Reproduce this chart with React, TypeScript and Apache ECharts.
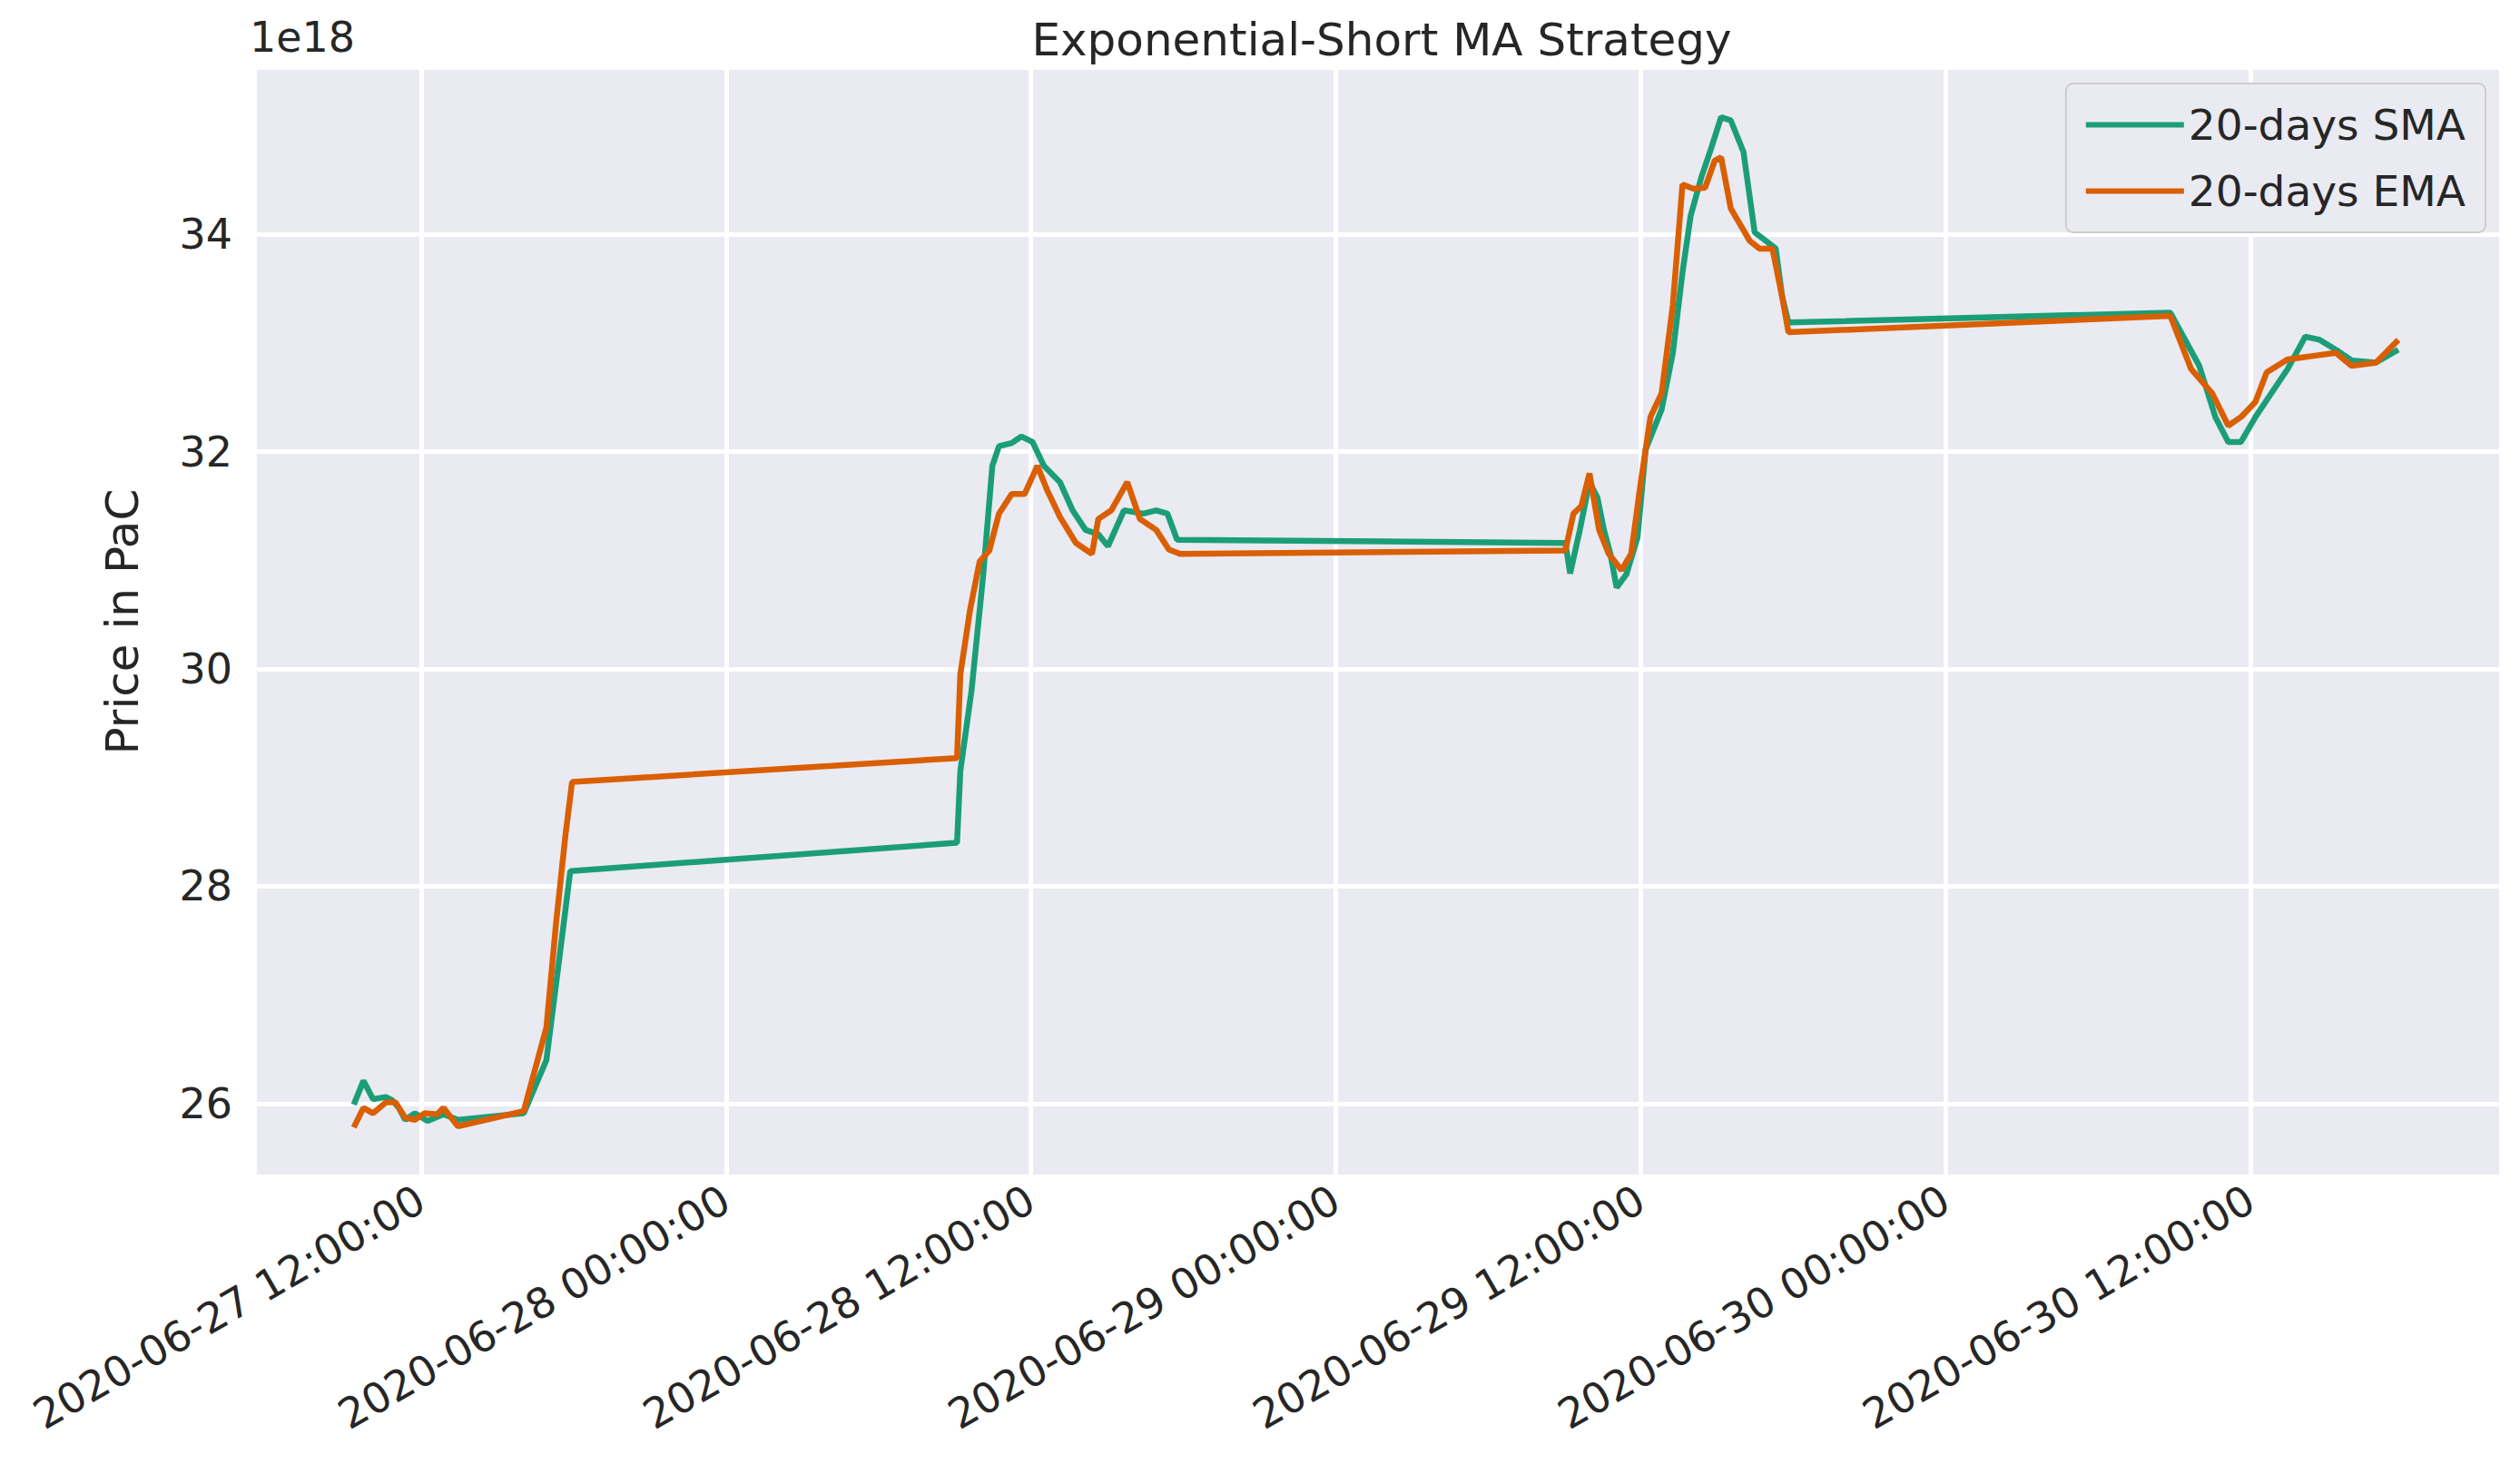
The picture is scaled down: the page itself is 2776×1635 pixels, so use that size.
import React, { useEffect, useRef } from 'react';
import * as echarts from 'echarts';

// hours after 2020-06-27 12:00 UTC, values in units of 1e18
const smaHours = [-2.65, -2.27, -1.89, -1.39, -1.14, -0.88, -0.63, -0.25, 0.25, 0.88, 1.45, 4.04, 4.93, 5.43, 5.87,
  21.09, 21.22, 21.66, 22.11, 22.48, 22.74, 23.24, 23.62, 24.06, 24.51, 25.14, 25.64, 26.15, 26.65, 27.03, 27.66, 28.42, 28.93, 29.37, 29.75,
  45.03, 45.22, 45.6, 45.98, 46.29, 46.55, 46.8, 47.05, 47.43, 47.87, 48.19, 48.82, 49.26, 49.64, 49.96, 50.4, 50.78, 51.16, 51.54, 52.04, 52.48, 52.93, 53.31, 53.56, 53.81,
  68.84, 69.35, 69.98, 70.61, 71.12, 71.62, 72.19, 72.82, 73.45, 74.15, 74.72, 75.35, 75.98, 76.93, 77.81];
const smaValues = [25.99, 26.21, 26.04, 26.06, 26.03, 25.96, 25.85, 25.91, 25.84, 25.9, 25.85, 25.91, 26.4, 27.32, 28.14,
  28.4, 29.06, 29.8, 30.84, 31.87, 32.05, 32.08, 32.14, 32.09, 31.87, 31.72, 31.46, 31.28, 31.24, 31.13, 31.46, 31.43, 31.46, 31.43, 31.19,
  31.16, 30.88, 31.28, 31.72, 31.58, 31.28, 31.06, 30.75, 30.87, 31.21, 32.02, 32.39, 32.91, 33.65, 34.17, 34.54, 34.8, 35.08, 35.05, 34.76, 34.02, 33.94, 33.87, 33.43, 33.19,
  33.28, 33.06, 32.79, 32.32, 32.09, 32.09, 32.32, 32.54, 32.76, 33.06, 33.03, 32.94, 32.84, 32.82, 32.94];
const emaHours = [-2.65, -2.27, -1.89, -1.39, -1.01, -0.63, -0.25, 0.13, 0.63, 0.88, 1.45, 4.04, 4.93, 5.31, 5.68, 5.94,
  21.09, 21.22, 21.6, 21.98, 22.36, 22.74, 23.24, 23.75, 24.25, 24.63, 25.14, 25.77, 26.4, 26.65, 27.16, 27.79, 28.29, 28.93, 29.43, 29.87,
  45.03, 45.35, 45.66, 45.98, 46.36, 46.74, 47.24, 47.62, 48.0, 48.38, 48.82, 49.26, 49.64, 50.08, 50.53, 50.91, 51.16, 51.54, 52.29, 52.67, 53.18, 53.56, 53.81,
  68.84, 69.66, 70.48, 71.12, 71.62, 72.19, 72.63, 73.45, 74.4, 75.35, 75.98, 76.93, 77.81];
const emaValues = [25.78, 25.96, 25.91, 26.01, 26.01, 25.87, 25.85, 25.91, 25.9, 25.96, 25.79, 25.93, 26.7, 27.66, 28.47, 28.96,
  29.18, 29.95, 30.54, 30.99, 31.09, 31.43, 31.61, 31.61, 31.87, 31.65, 31.4, 31.16, 31.06, 31.38, 31.46, 31.72, 31.38, 31.28, 31.1, 31.06,
  31.09, 31.43, 31.5, 31.8, 31.28, 31.06, 30.91, 31.06, 31.72, 32.32, 32.54, 33.35, 34.46, 34.42, 34.43, 34.68, 34.71, 34.24, 33.94, 33.87, 33.87, 33.43, 33.1,
  33.25, 32.76, 32.54, 32.24, 32.32, 32.46, 32.73, 32.85, 32.88, 32.91, 32.79, 32.82, 33.03];

const base = Date.UTC(2020, 5, 27, 12, 0, 0);
const H = 3600 * 1000;
const toPoints = (hours: number[], vals: number[]) => hours.map((h, i) => [base + h * H, vals[i]]);

const pad = (n: number) => String(n).padStart(2, '0');
const fmt = (v: number) => {
  const d = new Date(v);
  return `${d.getUTCFullYear()}-${pad(d.getUTCMonth() + 1)}-${pad(d.getUTCDate())} ${pad(d.getUTCHours())}:${pad(d.getUTCMinutes())}:${pad(d.getUTCSeconds())}`;
};

const App: React.FC = () => {
  const ref = useRef<HTMLDivElement>(null);

  useEffect(() => {
    document.body.style.margin = '0';
    if (!ref.current) return;
    const chart = echarts.init(ref.current, undefined, { renderer: 'svg' });
    const font = 'DejaVu Sans';
    chart.setOption({
      animation: false,
      useUTC: true,
      textStyle: { fontFamily: font },
      title: {
        text: 'Exponential-Short MA Strategy', left: 1517, top: 14, textAlign: 'center',
        textStyle: { fontSize: 50, fontWeight: 'normal', color: '#262626', fontFamily: font },
      },
      grid: { left: 280, right: 21, top: 74, bottom: 339, show: true, backgroundColor: '#eaeaf2', borderWidth: 0 },
      graphic: [
        { type: 'text', left: 275, top: 18, style: { text: '1e18', fontSize: 46, fill: '#262626', fontFamily: font } },
      ],
      legend: {
        orient: 'vertical', right: 38, top: 92, itemWidth: 108, itemHeight: 6, itemGap: 26,
        padding: [22, 22, 22, 22], backgroundColor: '#eaeaf2', borderColor: '#cccccc', borderWidth: 2, borderRadius: 8,
        icon: 'rect',
        textStyle: { fontSize: 47, color: '#262626', fontFamily: font },
        data: ['20-days SMA', '20-days EMA'],
      },
      xAxis: {
        type: 'time',
        min: base - 6.57 * H,
        max: base + 81.85 * H,
        splitNumber: 6,
        minInterval: 12 * H,
        axisLine: { show: false }, axisTick: { show: false },
        splitLine: { show: true, lineStyle: { color: '#ffffff', width: 5 } },
        axisLabel: { rotate: 30, fontSize: 46, color: '#262626', margin: 22, formatter: (v: number) => fmt(v), hideOverlap: false },
      },
      yAxis: {
        type: 'value', min: 25.33, max: 35.54, splitNumber: 5,
        name: 'Price in PaC', nameLocation: 'middle', nameGap: 120,
        nameTextStyle: { fontSize: 50, color: '#262626' },
        axisLine: { show: false }, axisTick: { show: false },
        splitLine: { show: true, lineStyle: { color: '#ffffff', width: 5 } },
        axisLabel: { fontSize: 46, color: '#262626', margin: 24, showMinLabel: false, showMaxLabel: false },
      },
      series: [
        { name: '20-days SMA', type: 'line', data: toPoints(smaHours, smaValues), showSymbol: false, symbol: 'none',
          lineStyle: { width: 6.5, color: '#1b9e77' }, itemStyle: { color: '#1b9e77' } },
        { name: '20-days EMA', type: 'line', data: toPoints(emaHours, emaValues), showSymbol: false, symbol: 'none',
          lineStyle: { width: 6.5, color: '#d95f02' }, itemStyle: { color: '#d95f02' } },
      ],
    });
    return () => chart.dispose();
  }, []);

  return <div ref={ref} style={{ width: 2776, height: 1635 }} />;
};

export default App;
